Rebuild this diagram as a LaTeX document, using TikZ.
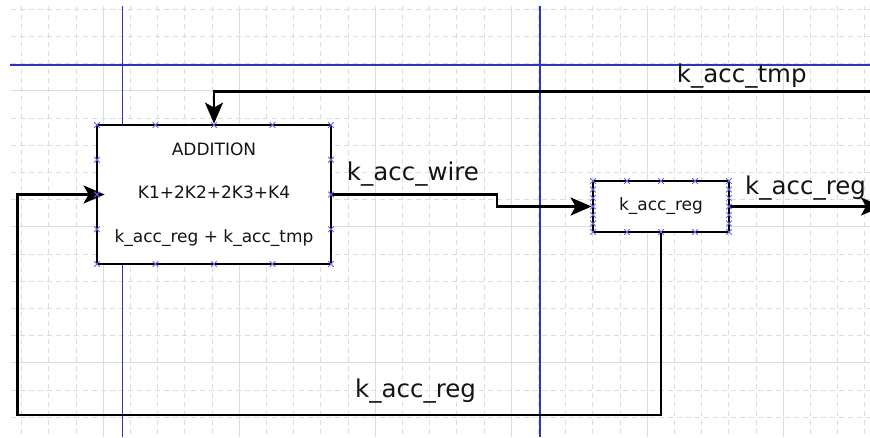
\documentclass[tikz,border=0pt]{standalone}
\usepackage{fontspec}
\setmainfont{DejaVu Sans}
\usetikzlibrary{arrows.meta,calc}
\definecolor{gridc}{RGB}{210,224,224}
\definecolor{guide}{RGB}{50,50,180}
\definecolor{markc}{RGB}{100,100,235}
\definecolor{txt}{RGB}{20,20,20}
\newcommand\xmk[1]{\draw[xmark] ($(#1)+(-2.8,-2.8)$) -- ($(#1)+(2.8,2.8)$) ($(#1)+(-2.8,2.8)$) -- ($(#1)+(2.8,-2.8)$);}
\begin{document}
\begin{tikzpicture}[x=1pt,y=-1pt,
  conn/.style={line width=2.6pt, line join=miter, draw=black},
  arr/.style={-{Stealth[length=21pt,width=18pt,inset=5pt]}},
  blk/.style={draw=black, line width=2.8pt, fill=white, inner sep=0pt, text=txt},
  lbl/.style={anchor=base west, font=\fontsize{24.5}{28}\selectfont, inner sep=0pt, text=txt},
  xmark/.style={draw=markc, line width=1pt},
  gridline/.style={draw=gridc, line width=1.1pt},
  gridsub/.style={draw=gridc, line width=1.1pt, dash pattern=on 5pt off 4pt},
  guideline/.style={draw=guide, line width=1.4pt}
]
\useasboundingbox (0,0) rectangle (870,437);
\clip (0,0) rectangle (870,437);
% grid
\foreach \k in {0,...,31}{
  \pgfmathsetmacro\gx{21.7+27.2*\k}
  \pgfmathtruncatemacro\grem{mod(\k,5)}
  \ifnum\grem=3
    \draw[gridline] (\gx,6) -- (\gx,437);
  \else
    \draw[gridsub] (\gx,6) -- (\gx,437);
  \fi
}
\foreach \k in {0,...,15}{
  \pgfmathsetmacro\gy{9.3+27.2*\k}
  \pgfmathtruncatemacro\grem{mod(\k,5)}
  \ifnum\grem=3
    \draw[gridline] (11,\gy) -- (870,\gy);
  \else
    \draw[gridsub] (11,\gy) -- (870,\gy);
  \fi
}
% guide lines
\draw[guideline] (10,65) -- (870,65);
\draw[guideline] (122.3,6) -- (122.3,437);
\draw[guideline] (540,6) -- (540,437);
% blocks
\node[blk, minimum width=234pt, minimum height=139pt, align=center,
      font=\fontsize{17}{43.5}\selectfont] (add) at (214,194.5)
      {ADDITION\\[0pt]K1+2K2+2K3+K4\\k\_acc\_reg + k\_acc\_tmp};
\node[blk, minimum width=136pt, minimum height=51pt,
      font=\fontsize{17}{20}\selectfont] (reg) at (661,206.5) {k\_acc\_reg};
% free ends
\coordinate (tin) at (872,91.5);
\coordinate (rout) at (882,206.5);
\coordinate (bl) at (17.5,415);
\coordinate (jog) at (497,194.5);
% connectors
\draw[conn, arr] (add.east) -- (jog) |- (reg.west);
\draw[conn, arr] (reg.east) -- (rout);
\draw[conn, arr] (tin) -| (add.north);
\draw[conn, arr, shorten >=-9pt] (reg.south) |- (bl) |- (add.west);
% labels
\node[lbl] (lw) at (346.7,180.7) {k\_acc\_wire};
\node[lbl] (lt) at (676.7,82) {k\_acc\_tmp};
\node[lbl] (lr) at (745,194.3) {k\_acc\_reg};
\node[lbl] (lb) at (355,397.5) {k\_acc\_reg};
% connection marks
\foreach \x in {97,155.5,214,272.5,331}{ \xmk{\x,125} \xmk{\x,264} }
\foreach \y in {159.75,194.5,229.25}{ \xmk{97,\y} \xmk{331,\y} }
\foreach \x in {593,627,661,695,729}{ \xmk{\x,181} \xmk{\x,232} }
\foreach \y in {189.5,198,206.5,215,223.5}{ \xmk{593,\y} \xmk{729,\y} }
\end{tikzpicture}
\end{document}
